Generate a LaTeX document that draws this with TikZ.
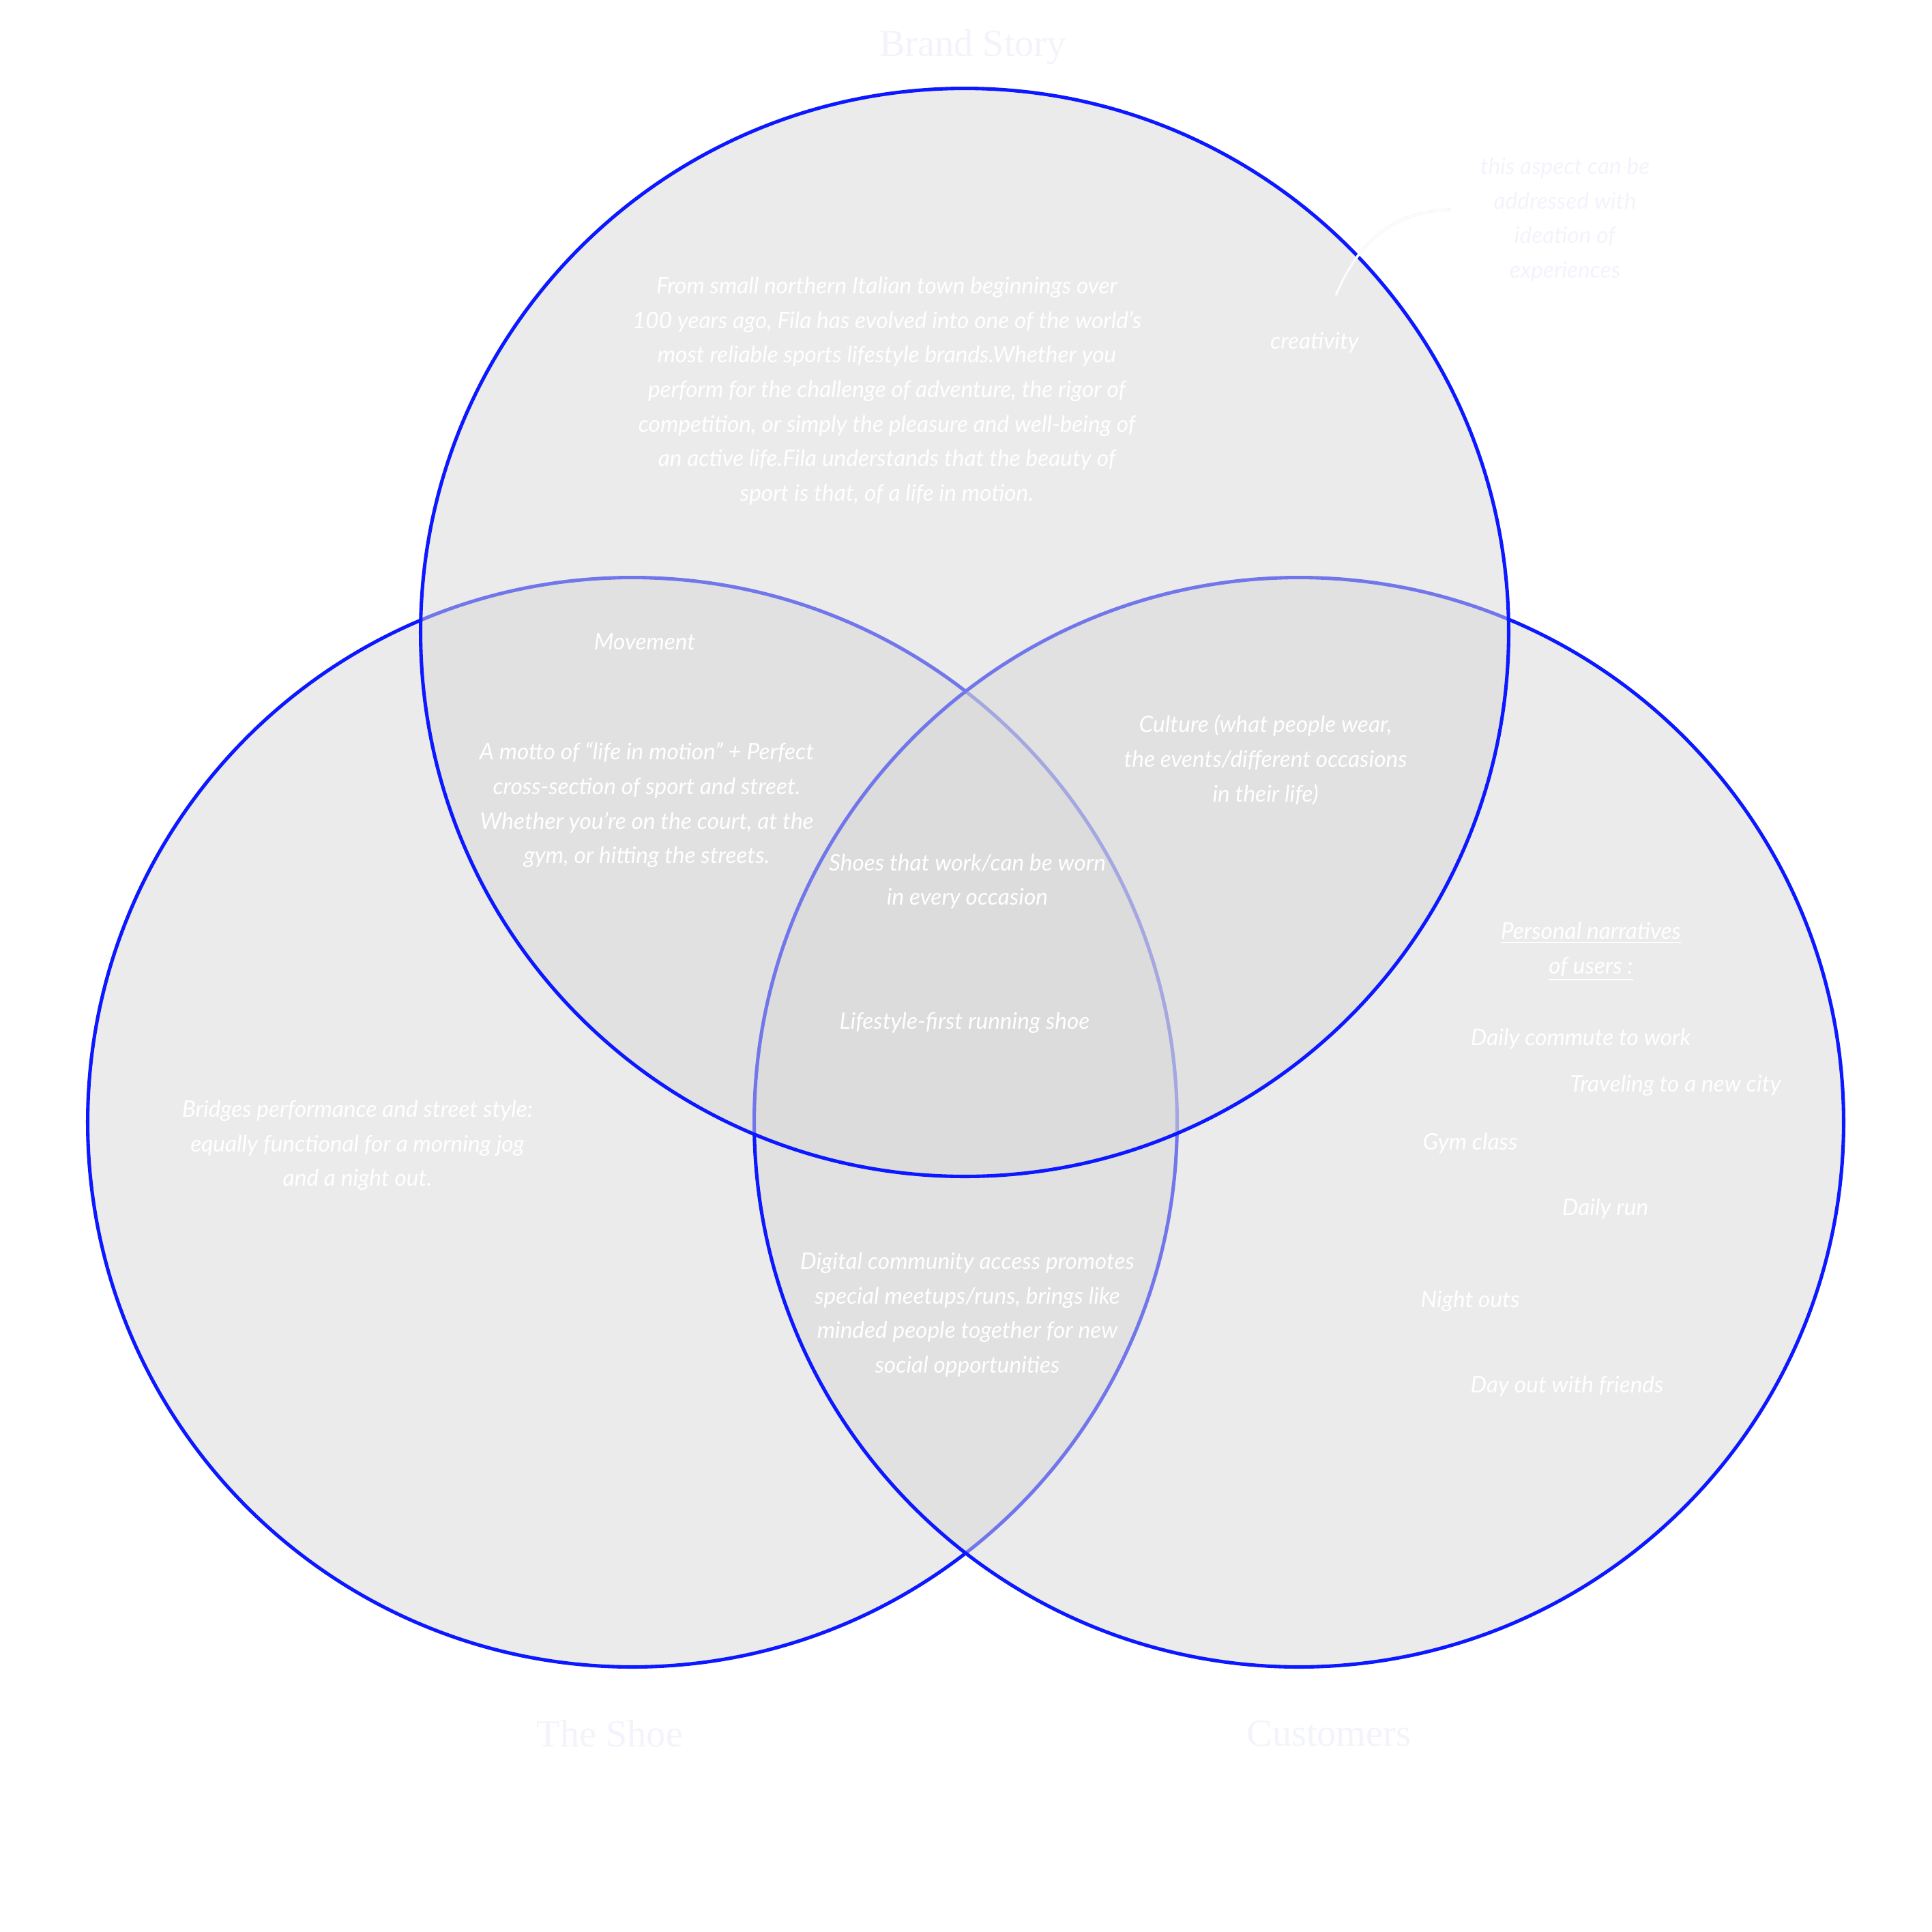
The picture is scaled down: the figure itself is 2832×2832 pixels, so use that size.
\documentclass[tikz,border=0pt]{standalone}
\usepackage{fontspec}
\setmainfont{Lato}
\newfontfamily\titlefont{Liberation Serif}
\definecolor{vblue}{RGB}{12,24,255}
\definecolor{vgray}{RGB}{215,215,215}
\definecolor{paletxt}{RGB}{243,243,252}
\begin{document}
\begin{tikzpicture}[x=0.01cm,y=-0.01cm,
  venn/.style={draw=vblue, line width=1.45pt, fill=vgray, fill opacity=0.5},
  lbl/.style={text=white, font=\fontsize{9.5pt}{14.4pt}\selectfont\itshape, align=center, inner sep=0pt},
  ttl/.style={text=paletxt, font=\titlefont\fontsize{16pt}{19pt}\selectfont, inner sep=0pt},
  note/.style={lbl, text=paletxt},
  conn/.style={draw=paletxt, line width=0.3pt, double=white, double distance=0.5pt}]
\useasboundingbox (0,0) rectangle (2832,2832);
% circles: shoe, customers, brand
\path[venn] (927,1645) circle[radius=7.98cm];
\path[venn] (1904,1645) circle[radius=7.98cm];
\path[venn] (1414,927) circle[radius=7.97cm];
% titles
\node[ttl] (tbrand) at (1426,69) {Brand Story};
\node[ttl] (tshoe) at (894,2541) {The Shoe};
\node[ttl] (tcust) at (1948,2541) {Customers};
% brand story
\node[lbl] (brand) at (1300,573) {From small northern Italian town beginnings over\\
100 years ago, Fila has evolved into one of the world's\\
most reliable sports lifestyle brands.Whether you\\
perform for the challenge of adventure, the rigor of\\
competition, or simply the pleasure and well-being of\\
an active life.Fila understands that the beauty of\\
sport is that, of a life in motion.};
\node[lbl] (creat) at (1927,502) {creativity};
\node[note] (annot) at (2294,322) {this aspect can be\\addressed with\\ideation of\\experiences};
\coordinate (cs) at (1958,433);
\coordinate (ce) at (2127,307);
\draw[conn] (cs) .. controls (1995,345) and (2050,310) .. (ce);
% brand & shoe
\node[lbl] (move) at (945,941) {Movement};
\node[lbl] (motto) at (948,1180) {A motto of ``life in motion'' + Perfect\\
cross-section of sport and street.\\
Whether you're on the court, at the\\
gym, or hitting the streets.};
% brand & customers
\node[lbl] (culture) at (1855,1114) {Culture (what people wear,\\
the events/different occasions\\
in their life)};
% centre
\node[lbl] (shoes) at (1418,1292) {Shoes that work/can be worn\\in every occasion};
\node[lbl] (lifestyle) at (1414,1499) {Lifestyle-first running shoe};
% shoe
\node[lbl] (bridges) at (524,1679) {Bridges performance and street style:\\
equally functional for a morning jog\\
and a night out.};
% shoe & customers
\node[lbl] (digital) at (1418,1927) {Digital community access promotes\\
special meetups/runs, brings like\\
minded people together for new\\
social opportunities};
% customers
\node[lbl] (narr) at (2332,1395) {\underline{Personal narratives}\\\underline{of users :}};
\node[lbl] (commute) at (2317,1523) {Daily commute to work};
\node[lbl] (travel) at (2456,1591) {Traveling to a new city};
\node[lbl] (gym) at (2155,1676) {Gym class};
\node[lbl] (run) at (2353,1772) {Daily run};
\node[lbl] (night) at (2155,1907) {Night outs};
\node[lbl] (friends) at (2297,2032) {Day out with friends};
\end{tikzpicture}
\end{document}
